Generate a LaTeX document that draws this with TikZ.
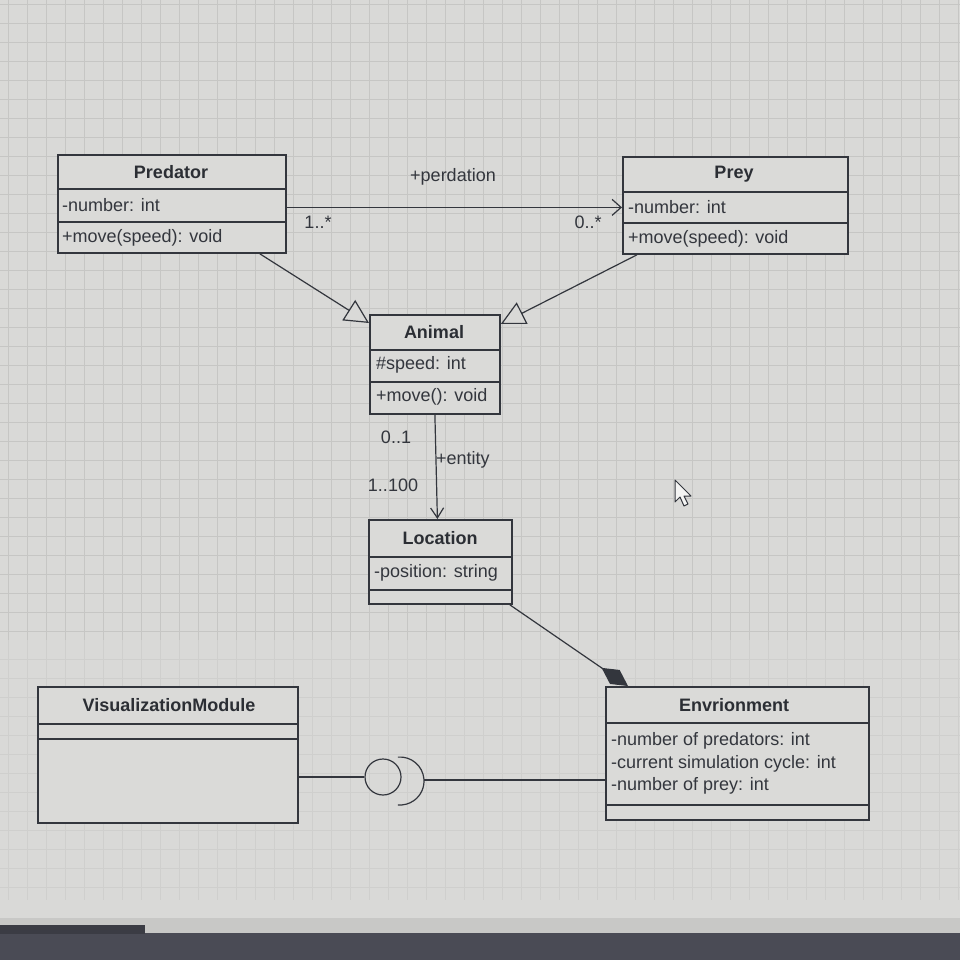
\documentclass[tikz,border=0pt]{standalone}
\usepackage{fontspec}
\setmainfont{Liberation Sans}
\usetikzlibrary{arrows.meta}
\definecolor{bg}{HTML}{D9D9D7}
\definecolor{gridc}{HTML}{C6C6C4}
\definecolor{gridl}{HTML}{CFCFCD}
\definecolor{ink}{HTML}{33363D}
\definecolor{boxfill}{HTML}{DADAD8}
\definecolor{screenedge}{HTML}{4A4B55}
\begin{document}
\begin{tikzpicture}[x=1pt,y=-1pt,
  font=\fontsize{18}{22}\selectfont,
  umlbox/.style={draw=ink, line width=1.8pt, fill=boxfill, rectangle, inner sep=0pt, anchor=north west},
  divider/.style={draw=ink, line width=1.6pt},
  ttl/.style={font=\fontsize{18}{22}\selectfont\bfseries, text=ink!85!black, inner sep=0pt},
  attr/.style={anchor=west, text=ink, inner sep=0pt},
  lbl/.style={text=ink, inner sep=0pt},
  conn/.style={draw=ink, line width=1.2pt}]
% background
\fill[bg] (0,0) rectangle (960,960);
\useasboundingbox (0,0) rectangle (960,960);
\foreach \i in {8,27,...,960} \draw[gridc, line width=0.6pt] (\i,0) -- (\i,640);
\foreach \j in {4,23,...,640} \draw[gridc, line width=0.6pt] (0,\j) -- (960,\j);
\foreach \i in {8,27,...,960} \draw[gridl, line width=0.6pt] (\i,640) -- (\i,900);
\foreach \j in {659,678,...,900} \draw[gridl, line width=0.6pt] (0,\j) -- (960,\j);
\fill[bg!92!black] (0,918) rectangle (960,933);
\fill[screenedge] (0,933) rectangle (960,960);
\fill[screenedge!80!black] (0,925) rectangle (145,934);

% Predator
\node[umlbox, minimum width=228pt, minimum height=98pt] (pred) at (57,154) {};
\draw[divider] ([yshift=-35pt]pred.north west) -- ([yshift=-35pt]pred.north east);
\draw[divider] ([yshift=-68pt]pred.north west) -- ([yshift=-68pt]pred.north east);
\node[ttl] (predT) at (171,172) {Predator};
\node[attr] (predA) at (62,205) {-number: int};
\node[attr] (predO) at (62,238) {+move(speed): void};

% Prey
\node[umlbox, minimum width=225pt, minimum height=97pt] (prey) at (622,156) {};
\draw[divider] ([yshift=-36pt]prey.north west) -- ([yshift=-36pt]prey.north east);
\draw[divider] ([yshift=-67pt]prey.north west) -- ([yshift=-67pt]prey.north east);
\node[ttl] (preyT) at (734,174) {Prey};
\node[attr] (preyA) at (628,207) {-number: int};
\node[attr] (preyO) at (628,239) {+move(speed): void};

% Animal
\node[umlbox, minimum width=130pt, minimum height=99pt] (animal) at (369,314) {};
\draw[divider] ([yshift=-36pt]animal.north west) -- ([yshift=-36pt]animal.north east);
\draw[divider] ([yshift=-68pt]animal.north west) -- ([yshift=-68pt]animal.north east);
\node[ttl] (animalT) at (434,332) {Animal};
\node[attr] (animalA) at (376,365) {\#speed: int};
\node[attr] (animalO) at (376,397) {+move(): void};

% Location
\node[umlbox, minimum width=143pt, minimum height=84pt] (loc) at (368,519) {};
\draw[divider] ([yshift=-38pt]loc.north west) -- ([yshift=-38pt]loc.north east);
\draw[divider] ([yshift=-71pt]loc.north west) -- ([yshift=-71pt]loc.north east);
\node[ttl] (locT) at (440,538) {Location};
\node[attr] (locA) at (374,573) {-position: string};

% VisualizationModule
\node[umlbox, minimum width=260pt, minimum height=136pt] (vis) at (37,686) {};
\draw[divider] ([yshift=-38pt]vis.north west) -- ([yshift=-38pt]vis.north east);
\draw[divider] ([yshift=-53pt]vis.north west) -- ([yshift=-53pt]vis.north east);
\node[ttl] (visT) at (169,705) {VisualizationModule};

% Envrionment
\node[umlbox, minimum width=263pt, minimum height=133pt] (env) at (605,686) {};
\draw[divider] ([yshift=-37pt]env.north west) -- ([yshift=-37pt]env.north east);
\draw[divider] ([yshift=-119pt]env.north west) -- ([yshift=-119pt]env.north east);
\node[ttl] (envT) at (734,705) {Envrionment};
\node[attr] (envA1) at (611,741) {-number of predators: int};
\node[attr] (envA2) at (611,764) {-current simulation cycle: int};
\node[attr] (envA3) at (611,786) {-number of prey: int};

% Predator -> Prey association
\coordinate (assocR) at ([yshift=-2pt]prey.west);
\draw[conn, -{Straight Barb[length=9pt,width=16pt,line width=1.2pt]}]
  (pred.east |- assocR) -- (assocR);
\node[lbl] (perd) at (453,177) {+perdation};
\node[lbl] (m1) at (318,222) {1..*};
\node[lbl] (m2) at (588,222) {0..*};

% generalizations
\draw[conn, -{Triangle[length=24pt,width=24pt,fill=bg,line width=1.2pt]}]
  ([xshift=-27pt]pred.south east) -- ([yshift=-9pt]animal.north west);
\draw[conn, -{Triangle[length=24pt,width=24pt,fill=bg,line width=1.2pt]}]
  ([xshift=15pt]prey.south west) -- ([yshift=-10pt]animal.north east);

% Animal -> Location
\draw[conn, -{Straight Barb[length=10pt,width=13pt,line width=1.2pt]}]
  (animal.south) -- ([xshift=-3pt]loc.north);
\node[lbl] (m3) at (396,437) {0..1};
\node[lbl, anchor=west] (ent) at (436,460) {+entity};
\node[lbl] (m4) at (393,485) {1..100};

% composition
\draw[conn, -{Diamond[length=32pt,width=17pt]}]
  ([xshift=-3pt]loc.south east) -- ([xshift=23pt]env.north west);

% interface (ball and socket)
\node[circle, draw=ink, line width=1.2pt, minimum size=36pt, inner sep=0pt] (lolli) at (383,777) {};
\draw[conn] (vis.east |- lolli) -- (lolli.west);
\coordinate (sock) at (400,781);
\draw[conn] ([shift={(95:24pt)}]sock) arc[start angle=95, end angle=-95, radius=24pt];
\coordinate (sockR) at (424,780);
\draw[conn] (sockR) -- (env.west |- sockR);

% mouse cursor
\draw[ink, fill=white!70!bg, line width=1pt, line join=round]
  (675,480) -- (675,502) -- (680,497) -- (684,506) -- (688,504) -- (684,496) -- (691,496) -- cycle;
\end{tikzpicture}
\end{document}
